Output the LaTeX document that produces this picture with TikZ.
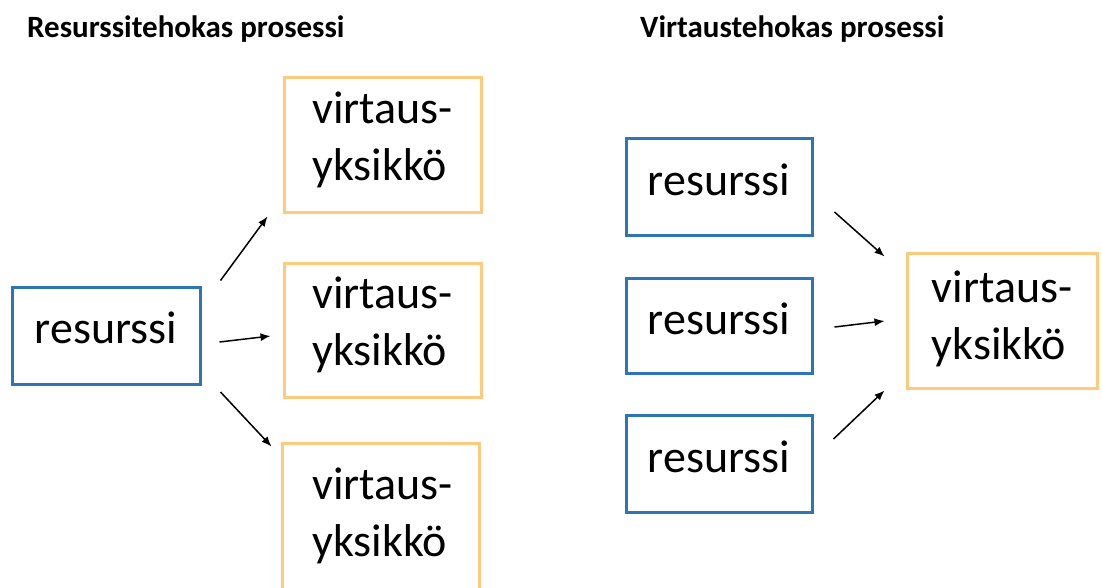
\documentclass[tikz,border=0pt]{standalone}
\usepackage{fontspec}
\setmainfont{Carlito}
\usetikzlibrary{arrows.meta}
\definecolor{resblue}{RGB}{46,117,182}
\definecolor{floworange}{RGB}{255,201,126}
\tikzset{
  resbox/.style={draw=resblue, line width=3pt, inner sep=0pt, minimum width=186pt, minimum height=96pt,
    text height=34pt, text depth=16pt, font=\fontsize{46}{57}\selectfont},
  flowbox/.style={draw=floworange, line width=3pt, inner sep=0pt, minimum width=197pt, minimum height=135pt},
  flowlabel/.style={align=left, inner sep=0pt, font=\fontsize{46}{57}\selectfont},
  flowarrow/.style={line width=1.5pt, -{Latex[length=10pt,width=8pt]}},
  headline/.style={anchor=base west, inner sep=0pt, font=\bfseries\fontsize{31}{36}\selectfont}
}
\begin{document}
\begin{tikzpicture}[x=1pt,y=-1pt]
			%%%%% START %%%%%
			\clip (0,0) rectangle (1102,587);
			
			\node[headline] (headleft) at (27,37) {Resurssitehokas prosessi};
			\node[headline] (headright) at (640,37) {Virtaustehokas prosessi};
			
			% resurssitehokas
			\node[resbox, minimum width=188pt, minimum height=97pt, text height=32pt] (res) at (106,335.5) {resurssi};
			\node[flowbox, label={[flowlabel, yshift=5pt]center:virtaus-\\yksikkö}] (flowA) at (382.5,144.5) {};
			\node[flowbox, minimum height=134pt, label={[flowlabel, yshift=5pt]center:virtaus-\\yksikkö}] (flowB) at (382.5,330) {};
			\node[flowbox, draw=none, label={[flowlabel, yshift=-3.5pt]center:virtaus-\\yksikkö}] (flowC) at (382.5,512.5) {};
			\draw[draw=floworange, line width=3pt] (flowC.north west) rectangle ++(197,170);
			
			\draw[flowarrow] ([shift={(19,-55)}]res.east) -- ([shift={(-15,3)}]flowA.south west);
			\draw[flowarrow] ([shift={(18,6.5)}]res.east) -- ([shift={(-12,6)}]flowB.west);
			\draw[flowarrow] ([shift={(19,56.5)}]res.east) -- ([shift={(-11,3)}]flowC.north west);
			
			% virtaustehokas
			\node[resbox, minimum height=97pt] (resA) at (719,186.5) {resurssi};
			\node[resbox, minimum height=95pt] (resB) at (719,325.5) {resurssi};
			\node[resbox, minimum height=97pt] (resC) at (719,463.5) {resurssi};
			\node[flowbox, minimum width=190pt, label={[flowlabel, yshift=2pt]center:virtaus-\\yksikkö}] (flow) at (1002,320.5) {};
			
			\draw[flowarrow] ([shift={(21,25.5)}]resA.east) -- ([shift={(-21,5)}]flow.north west);
			\draw[flowarrow] ([shift={(21,1.5)}]resB.east) -- ([shift={(-21,0.5)}]flow.west);
			\draw[flowarrow] ([shift={(20,-24.5)}]resC.east) -- ([shift={(-21,1)}]flow.south west);
			
			%%%%% END %%%%%
\end{tikzpicture}
\end{document}
